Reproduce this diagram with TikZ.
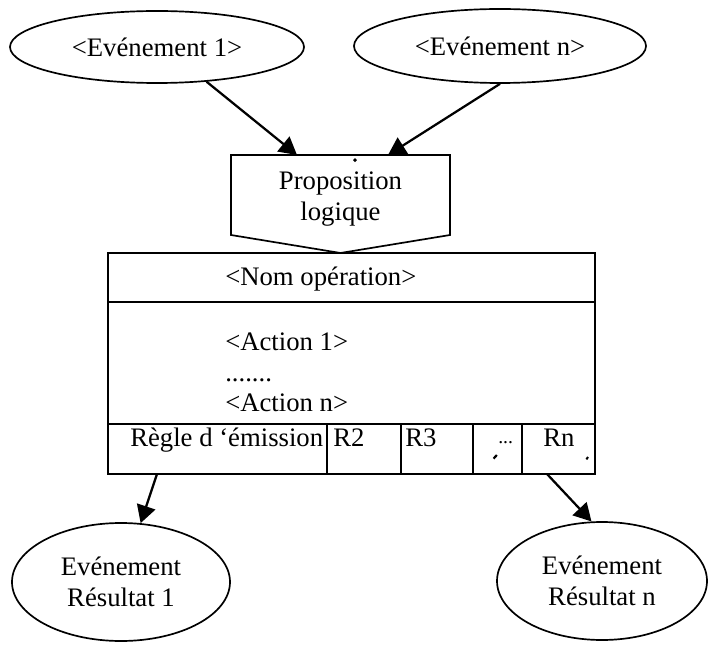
\documentclass[tikz,border=0pt]{standalone}
\usepackage{fontspec}
\setmainfont{Liberation Serif}
\usepackage{tikz}
\usetikzlibrary{
	arrows.meta,
	shapes.geometric,
	% positioning,
	% calc,
}
\tikzstyle{arrow} = [line width=1.6pt,-{Triangle[length=12.5pt,width=13.5pt]}]
\tikzstyle{event} = [draw, ellipse, line width=1.2pt, inner sep=0pt, align=center]
\tikzstyle{txt} = [inner sep=0pt, anchor=base west]

\begin{document}
\begin{tikzpicture}[font=\fontsize{19}{22}\selectfont]
	\useasboundingbox (0,0) rectangle (17.7,16.125);

	% incoming events
	\node[event, minimum width=7.35cm, minimum height=1.8cm] (ev1) at (3.925,14.95) {<Evénement 1>};
	\node[event, minimum width=7.3cm, minimum height=1.85cm] (evn) at (12.5,14.975) {<Evénement n>};

	% logical proposition, box pointing down
	\draw[line width=1.2pt] (5.775,12.25) -- (11.25,12.25) -- (11.25,10.25)
	-- (8.5125,9.8) -- (5.775,10.25) -- cycle;
	\node[inner sep=0pt, align=center] (prop) at (8.5125,11.15) {Proposition\\logique};
	\fill (8.875,12.12) circle (1.4pt);
	\coordinate (in1) at (7.425,12.25);
	\coordinate (inn) at (9.7,12.25);

	\draw[arrow] (ev1.-35) -- (in1);
	\draw[arrow] (evn.south) -- (inn);

	% operation table
	\draw[line width=1.2pt] (2.7,4.275) rectangle (14.875,9.8);
	\draw[line width=1.2pt] (2.7,8.575) -- (14.875,8.575);
	\draw[line width=1.2pt] (2.7,5.525) -- (14.875,5.525);
	\foreach \x in {8.175,10.025,11.825,13.05} {
			\draw[line width=0.8pt] (\x,5.525) -- (\x,4.275);
		}

	% labels
	\node[txt] (nom) at (5.625,9.0) {<Nom opération>};
	\node[txt] (act1) at (5.625,7.375) {<Action 1>};
	\node[txt] (dots) at (5.625,6.58) {.......};
	\node[txt] (actn) at (5.625,5.83) {<Action n>};
	\node[txt] (regle) at (3.25,4.975) {Règle d ‘émission};
	\node[txt] (r2) at (8.325,4.975) {R2};
	\node[txt] (r3) at (10.125,4.975) {R3};
	\node[txt, font=\fontsize{14}{16}\selectfont] (rdots) at (12.45,5.05) {...};
	\node[txt] (rn) at (13.575,4.975) {Rn};
	\draw[line width=1.6pt] (12.34,4.66) -- (12.42,4.75);
	\draw[line width=1.4pt] (14.66,4.64) -- (14.7,4.7);

	% resulting events
	\node[event, minimum width=5.45cm, minimum height=2.95cm] (res1) at (3.025,1.575) {Evénement\\Résultat 1};
	\node[event, minimum width=5.25cm, minimum height=2.95cm] (resn) at (15.05,1.6) {Evénement\\Résultat n};
	\coordinate (out1) at (3.925,4.275);
	\coordinate (outn) at (13.675,4.275);

	\draw[arrow] (out1) -- (res1);
	\draw[arrow] (outn) -- (resn.100);

\end{tikzpicture}
\end{document}
